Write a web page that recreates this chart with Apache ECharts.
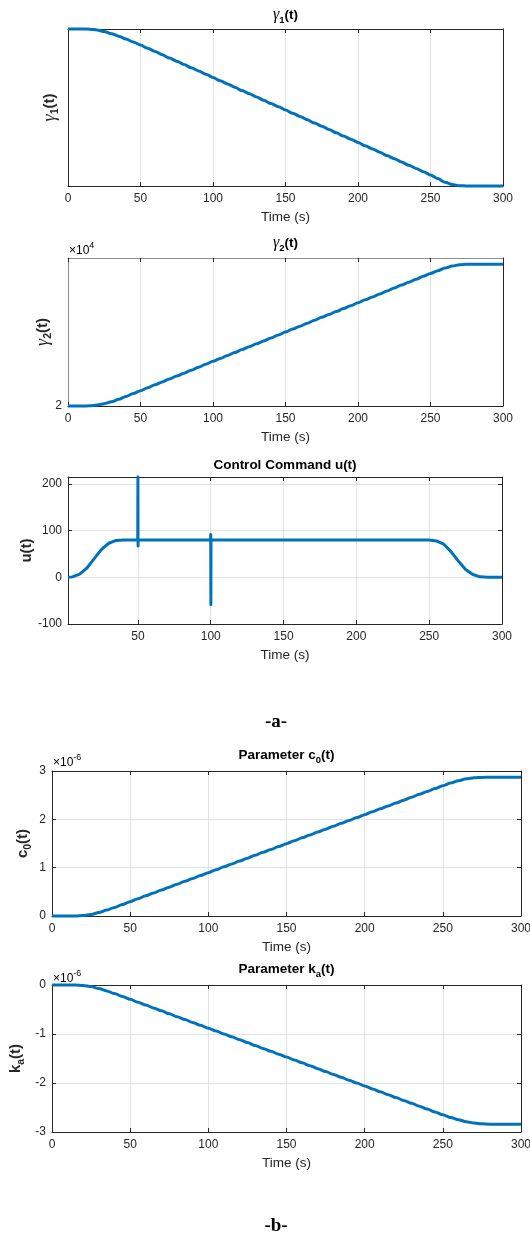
<!DOCTYPE html>
<html lang="en">
<head>
<meta charset="UTF-8">
<title>Trajectory and Parameter Estimates</title>
<script src="https://cdn.jsdelivr.net/npm/echarts@6.0.0/dist/echarts.min.js"></script>
<style>
    body { margin: 0; background: #fff; }
    #main { width: 530px; height: 1236px; }
</style>
</head>
<body>
<div id="main"></div>
<script>
// sampled every 5 s
var time = [0,5,10,15,20,25,30,35,40,45,50,55,60,65,70,75,80,85,90,95,100,105,110,115,120,125,130,135,140,145,150,
    155,160,165,170,175,180,185,190,195,200,205,210,215,220,225,230,235,240,245,250,255,260,265,270,275,280,285,290,295,300];

// gamma1 has no tick labels in the figure, read as a fraction of the axis height
var gamma1 = [1,1,1,0.999,0.994,0.984,0.970,0.954,0.936,0.917,
    0.898,0.877,0.857,0.836,0.815,0.795,0.774,0.753,0.733,0.712,
    0.691,0.670,0.650,0.629,0.608,0.588,0.567,0.546,0.525,0.505,
    0.484,0.463,0.443,0.422,0.401,0.381,0.360,0.339,0.318,0.298,
    0.277,0.256,0.236,0.215,0.194,0.174,0.153,0.132,0.112,0.091,
    0.070,0.047,0.024,0.009,0.002,0,0,0,0,0,0];

// gamma2, x10^4
var gamma2 = [2,2,2,2.001,2.006,2.016,2.029,2.045,2.064,2.084,
    2.103,2.123,2.143,2.163,2.183,2.202,2.222,2.242,2.262,2.282,
    2.302,2.321,2.341,2.361,2.381,2.401,2.420,2.440,2.460,2.480,
    2.500,2.520,2.539,2.559,2.579,2.599,2.619,2.638,2.658,2.678,
    2.698,2.718,2.737,2.757,2.777,2.797,2.817,2.836,2.856,2.876,
    2.896,2.914,2.932,2.946,2.954,2.957,2.957,2.957,2.957,2.957,2.957];

// control command, with the two spikes at 50 s and 100 s
var uTime = [2,5,10,15,20,25,30,35,40,49.9,50,50.1,50.2,99.9,100,100.1,100.2,150,200,250,255,260,265,270,275,280,285,290,300];
var uValues = [0,1,7,20,40,60,73,79,80,80,215,67,80,80,92,-59,80,80,80,80,78,71,55,35,17,6,1,0,0];

// c0, x10^-6
var c0 = [0,0,0,0.002,0.010,0.033,0.072,0.122,0.178,0.237,
    0.297,0.357,0.417,0.477,0.537,0.597,0.657,0.717,0.777,0.837,
    0.897,0.957,1.017,1.077,1.137,1.197,1.257,1.317,1.377,1.437,
    1.497,1.557,1.617,1.677,1.737,1.797,1.857,1.917,1.977,2.037,
    2.097,2.157,2.217,2.277,2.337,2.397,2.457,2.517,2.577,2.637,
    2.697,2.752,2.800,2.838,2.860,2.868,2.870,2.870,2.870,2.870,2.870];

// ka, x10^-6
var ka = [0,0,0,-0.002,-0.010,-0.033,-0.071,-0.120,-0.175,-0.233,
    -0.292,-0.351,-0.410,-0.469,-0.528,-0.587,-0.646,-0.705,-0.764,-0.823,
    -0.882,-0.940,-0.999,-1.058,-1.117,-1.176,-1.235,-1.294,-1.353,-1.412,
    -1.471,-1.530,-1.589,-1.648,-1.707,-1.766,-1.825,-1.884,-1.943,-2.002,
    -2.061,-2.120,-2.179,-2.238,-2.297,-2.356,-2.415,-2.474,-2.533,-2.592,
    -2.650,-2.705,-2.752,-2.790,-2.818,-2.834,-2.840,-2.840,-2.840,-2.840,-2.840];

var timeTicks = [0,50,100,150,200,250,300];
var uTimeTicks = [50,100,150,200,250,300];
var gamma2Ticks = [2];
var uTicks = [-100,0,100,200];
var c0Ticks = [0,1,2,3];
var kaTicks = [-3,-2,-1,0];

var AXIS = '#262626';
var GRIDC = '#e2e2e2';
var BLUE = '#0072bd';
var SANS = '"Liberation Sans", Arial, sans-serif';

var nameRich = {
    g: {fontFamily: '"Liberation Serif", serif', fontStyle: 'italic', fontSize: 18, lineHeight: 22, verticalAlign: 'middle', color: AXIS},
    b: {fontFamily: SANS, fontWeight: 'bold', fontSize: 15, lineHeight: 22, verticalAlign: 'middle', color: AXIS},
    s: {fontFamily: SANS, fontWeight: 'bold', fontSize: 10.5, lineHeight: 10, verticalAlign: 'bottom', color: AXIS}
};
var titleRich = {
    g: {fontFamily: '"Liberation Serif", serif', fontStyle: 'italic', fontSize: 16, lineHeight: 20, verticalAlign: 'middle', color: '#000'},
    b: {fontFamily: SANS, fontWeight: 'bold', fontSize: 13.5, lineHeight: 20, verticalAlign: 'middle', color: '#000'},
    s: {fontFamily: SANS, fontWeight: 'bold', fontSize: 9.5, lineHeight: 9, verticalAlign: 'bottom', color: '#000'}
};
var expRich = {
    a: {fontFamily: SANS, fontSize: 12, lineHeight: 20, verticalAlign: 'middle', color: AXIS},
    p: {fontFamily: SANS, fontSize: 9, lineHeight: 9, verticalAlign: 'top', color: AXIS}
};

function pairs(xs, ys) {
    return xs.map(function (x, i) { return [x, ys[i]]; });
}

var panels = [
    {grid: {left: 68, top: 29, width: 435, height: 157}, xMin: 0, xMax: 300, xTicks: timeTicks,
     yMin: 0, yMax: 1, yTicks: null, ySplit: false, yName: '{g|γ}{s|1}{b|(t)}', yGap: 7,
     title: '{g|γ}{s|1}{b|(t)}', titleY: 15, data: pairs(time, gamma1)},
    {grid: {left: 68, top: 258, width: 435, height: 148}, xMin: 0, xMax: 300, xTicks: timeTicks,
     yMin: 2, yMax: 3, yTicks: gamma2Ticks, ySplit: false, yName: '{g|γ}{s|2}{b|(t)}', yGap: 14,
     title: '{g|γ}{s|2}{b|(t)}', titleY: 243, data: pairs(time, gamma2), soft: '#8f8f8f',
     exp: '{a|×10}{p|4}', expY: 251},
    {grid: {left: 68, top: 477, width: 434, height: 147}, xMin: 2, xMax: 300, xTicks: uTimeTicks,
     yMin: -100, yMax: 215, yTicks: uTicks, ySplit: true, yName: '{b|u(t)}', yGap: 30,
     title: '{b|Control Command u(t)}', titleY: 465, data: pairs(uTime, uValues)},
    {grid: {left: 52, top: 771, width: 469, height: 145}, xMin: 0, xMax: 300, xTicks: timeTicks,
     yMin: 0, yMax: 3, yTicks: c0Ticks, ySplit: true, yName: '{b|c}{s|0}{b|(t)}', yGap: 18,
     title: '{b|Parameter c}{s|0}{b|(t)}', titleY: 755, data: pairs(time, c0), exp: '{a|×10}{p|-6}', expY: 763},
    {grid: {left: 52, top: 985, width: 469, height: 147}, xMin: 0, xMax: 300, xTicks: timeTicks,
     yMin: -3, yMax: 0, yTicks: kaTicks, ySplit: true, yName: '{b|k}{s|a}{b|(t)}', yGap: 25,
     title: '{b|Parameter k}{s|a}{b|(t)}', titleY: 969, data: pairs(time, ka), exp: '{a|×10}{p|-6}', expY: 979}
];

var grids = [], xAxes = [], yAxes = [], series = [], graphics = [];

panels.forEach(function (p, i) {
    grids.push(Object.assign({outerBoundsMode: 'none', containLabel: false}, p.grid));
    var leftTop = p.soft || AXIS;
    var tick = function (vals) {
        return vals ? {show: true, inside: true, length: 4, customValues: vals, lineStyle: {color: AXIS}} : {show: false};
    };
    xAxes.push({
        type: 'value', gridIndex: i, min: p.xMin, max: p.xMax, position: 'bottom',
        axisLine: {onZero: false, lineStyle: {color: AXIS}},
        axisTick: tick(p.xTicks),
        axisLabel: {customValues: p.xTicks, color: AXIS, fontSize: 12, fontFamily: SANS, margin: 7},
        splitLine: {show: true, lineStyle: {color: GRIDC}},
        name: 'Time (s)', nameLocation: 'middle', nameGap: 24, nameMoveOverlap: false,
        nameTextStyle: {color: AXIS, fontSize: 13.5, fontFamily: SANS}
    });
    xAxes.push({
        type: 'value', gridIndex: i, min: p.xMin, max: p.xMax, position: 'top',
        axisLine: {onZero: false, lineStyle: {color: leftTop}},
        axisTick: tick(p.xTicks),
        axisLabel: {show: false, customValues: p.xTicks},
        splitLine: {show: false}
    });
    yAxes.push({
        type: 'value', gridIndex: i, min: p.yMin, max: p.yMax, position: 'left',
        axisLine: {onZero: false, lineStyle: {color: leftTop}},
        axisTick: p.yTicks && p.ySplit ? tick(p.yTicks) : {show: false},
        axisLabel: p.yTicks ? {customValues: p.yTicks, color: AXIS, fontSize: 12, fontFamily: SANS, margin: 6} : {show: false},
        splitLine: {show: p.ySplit, lineStyle: {color: GRIDC}},
        name: p.yName, nameLocation: 'middle', nameGap: p.yGap, nameMoveOverlap: false,
        nameTextStyle: {rich: nameRich}
    });
    yAxes.push({
        type: 'value', gridIndex: i, min: p.yMin, max: p.yMax, position: 'right',
        axisLine: {onZero: false, lineStyle: {color: AXIS}},
        axisTick: p.yTicks && p.ySplit ? tick(p.yTicks) : {show: false},
        axisLabel: {show: false, customValues: p.yTicks || []},
        splitLine: {show: false}
    });
    series.push({
        type: 'line', xAxisIndex: 2 * i, yAxisIndex: 2 * i, data: p.data,
        showSymbol: false, clip: false, animation: false,
        smooth: i === 2 ? false : 0.3, smoothMonotone: 'x',
        lineStyle: {color: BLUE, width: 3, join: 'round'}
    });
    graphics.push({
        type: 'text',
        style: {x: p.grid.left + p.grid.width / 2, y: p.titleY, text: p.title, rich: titleRich,
                textAlign: 'center', textVerticalAlign: 'middle'}
    });
    if (p.exp) {
        graphics.push({
            type: 'text',
            style: {x: p.grid.left + 1, y: p.expY, text: p.exp, rich: expRich,
                    textAlign: 'left', textVerticalAlign: 'middle'}
        });
    }
});

// panel captions
graphics.push({type: 'text', style: {x: 276, y: 722, text: '-a-', textAlign: 'center', textVerticalAlign: 'middle',
    font: 'bold 19px "Liberation Serif", serif', fill: '#000'}});
graphics.push({type: 'text', style: {x: 276, y: 1226, text: '-b-', textAlign: 'center', textVerticalAlign: 'middle',
    font: 'bold 19px "Liberation Serif", serif', fill: '#000'}});

var chart = echarts.init(document.getElementById('main'));
chart.setOption({
    animation: false,
    backgroundColor: '#fff',
    grid: grids,
    xAxis: xAxes,
    yAxis: yAxes,
    series: series,
    graphic: graphics
});
</script>
</body>
</html>
